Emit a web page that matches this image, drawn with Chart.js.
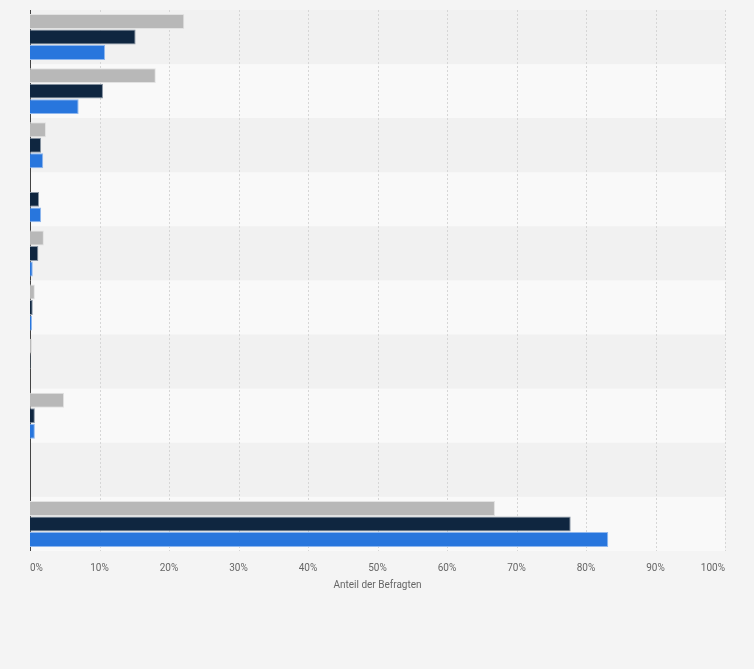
<!DOCTYPE html>
<html>
<head>
<meta charset="utf-8">
<script src="https://cdn.jsdelivr.net/npm/chart.js@4/dist/chart.umd.min.js"></script>
<style>
  html, body { margin: 0; padding: 0; background: #f4f4f4; }
  #wrap { width: 754px; height: 669px; }
</style>
</head>
<body>
<div id="wrap"><canvas id="bar-chart"></canvas></div>
<script>
// categories are not labelled in the picture
var categories = ["1", "2", "3", "4", "5", "6", "7", "8", "9", "10"];
var seriesGray = [22.2, 18.1, 2.3, 0, 2.0, 0.7, 0.3, 4.9, 0, 66.9];
var seriesNavy = [15.2, 10.5, 1.6, 1.3, 1.2, 0.4, 0.1, 0.7, 0, 77.8];
var seriesBlue = [10.8, 7.0, 1.9, 1.6, 0.4, 0.3, 0, 0.7, 0, 83.2];
var tickValues = [0, 10, 20, 30, 40, 50, 60, 70, 80, 90, 100];

// alternating row bands behind the bars
var bands = {
  id: 'bands',
  beforeDatasetsDraw: function(chart) {
    var ctx = chart.ctx, area = chart.chartArea;
    var step = (area.bottom - area.top) / categories.length;
    ctx.save();
    for (var i = 0; i < categories.length; i++) {
      ctx.fillStyle = i % 2 == 0 ? '#f1f1f1' : '#f9f9f9';
      ctx.fillRect(area.left, area.top + i * step, area.right - area.left, step);
    }
    // vertical grid on top of bands
    var x = chart.scales.x;
    ctx.strokeStyle = '#d6d6d6';
    ctx.lineWidth = 1;
    ctx.setLineDash([2, 2]);
    for (var j = 1; j < tickValues.length; j++) {
      var px = Math.round(x.getPixelForValue(tickValues[j])) + 0.5;
      ctx.beginPath();
      ctx.moveTo(px, area.top);
      ctx.lineTo(px, area.bottom);
      ctx.stroke();
    }
    ctx.setLineDash([]);
    ctx.strokeStyle = '#444';
    ctx.beginPath();
    ctx.moveTo(area.left + 0.5, area.top);
    ctx.lineTo(area.left + 0.5, area.bottom);
    ctx.stroke();
    ctx.restore();
  }
};

new Chart(document.getElementById("bar-chart"), {
  type: 'bar',
  data: {
    labels: categories,
    datasets: [
      { label: "Reihe 1", data: seriesGray, backgroundColor: "#b8b8b8", borderColor: "#e2e2e2", borderWidth: 1 },
      { label: "Reihe 2", data: seriesNavy, backgroundColor: "#0f2640", borderColor: "#8a96a4", borderWidth: 1 },
      { label: "Reihe 3", data: seriesBlue, backgroundColor: "#2876dd", borderColor: "#8fb7ee", borderWidth: 1 }
    ]
  },
  plugins: [bands],
  options: {
    indexAxis: 'y',
    responsive: true,
    maintainAspectRatio: false,
    animation: false,
    layout: { padding: { left: 30, right: 29, top: 10, bottom: 78 } },
    datasets: { bar: { categoryPercentage: 0.86, barPercentage: 0.96 } },
    plugins: {
      legend: { display: false },
      tooltip: { enabled: false }
    },
    scales: {
      x: {
        min: 0,
        max: 100,
        afterBuildTicks: function(axis) {
          axis.ticks = tickValues.map(function(v) { return { value: v }; });
        },
        grid: { display: false, drawTicks: false },
        border: { display: false },
        ticks: {
          color: '#666',
          padding: 11,
          align: 'inner',
          font: { family: 'Roboto', size: 10 },
          callback: function(v) { return v + '%'; }
        },
        title: {
          display: true,
          text: 'Anteil der Befragten',
          color: '#666',
          font: { family: 'Roboto', size: 10 },
          padding: { top: -6, bottom: 0 }
        }
      },
      y: {
        grid: { display: false, drawTicks: false },
        border: { display: false },
        ticks: { display: false }
      }
    }
  }
});
</script>
</body>
</html>
